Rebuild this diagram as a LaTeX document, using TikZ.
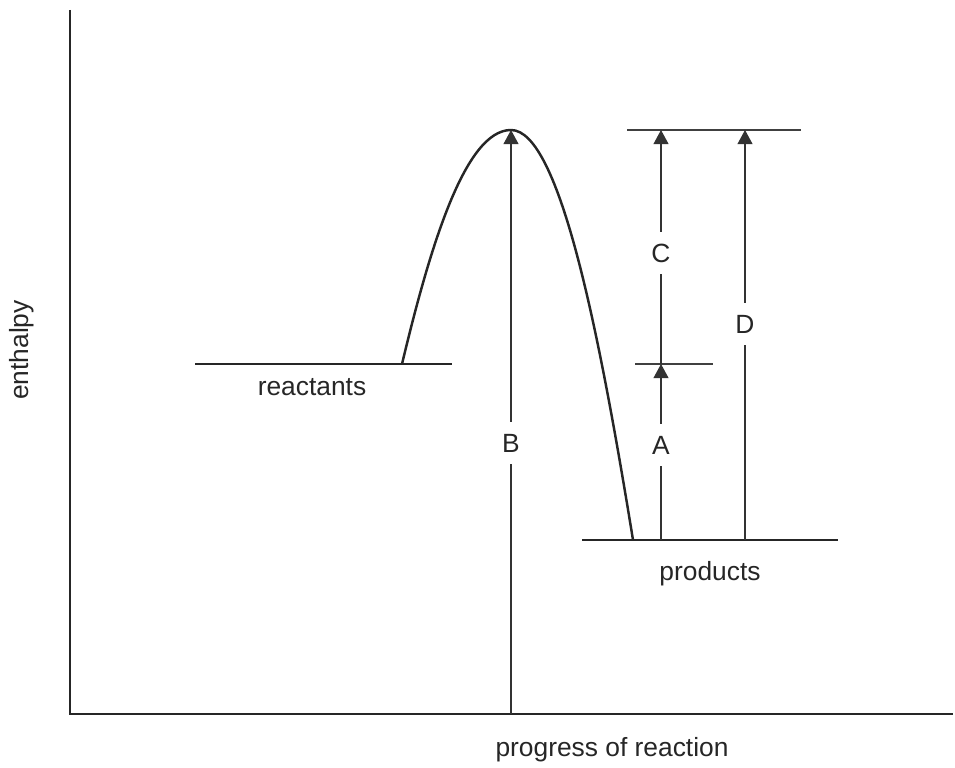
\documentclass[tikz,border=0pt]{standalone}
\usepackage{fontspec}
\setmainfont{Liberation Sans}
\usetikzlibrary{arrows.meta,positioning}

\begin{document}
\begin{tikzpicture}[
    x=0.02cm, y=0.02cm,
    >={Triangle[length=8pt,width=8.5pt]},
    axisline/.style={line width=1.1pt, draw=black!85},
    level/.style={line width=1.4pt, draw=black!85},
    guide/.style={line width=0.6pt, draw=black!75},
    energy/.style={->, line width=0.6pt, draw=black!80, fill=black!85},
    txt/.style={font=\fontsize{15}{17}\selectfont, text=black!85},
    lab/.style={txt, inner sep=0pt, minimum height=24pt, minimum width=20pt}
]
\useasboundingbox (0,0) rectangle (955,767);

% axes
\coordinate (origin) at (70,53);
\coordinate (ytop) at (70,757);
\coordinate (xend) at (953,53);
\draw[axisline] (ytop) -- (origin) -- (xend);
\node[txt, rotate=90] (ylab) at (22,417) {enthalpy};
\node[txt] (xlab) at (612,17) {progress of reaction};

% levels
\coordinate (reacL) at (195,403);
\coordinate (reacR) at (452,403);
\coordinate (prodL) at (582,227);
\coordinate (prodR) at (838,227);
\draw[level] (reacL) -- (reacR);
\draw[level] (prodL) -- (prodR);
\node[txt] (reactants) at (312,380) {reactants};
\node[txt] (products) at (710,193) {products};

% energy profile
\coordinate (start) at (402,403);
\coordinate (peak) at (511,637);
\coordinate (finish) at (633,227);
\draw[level] (start) .. controls (430,520) and (465,637) .. (peak)
    .. controls (560,637) and (600,430) .. (finish);

% guide lines
\coordinate (topL) at (627,637);
\coordinate (topR) at (801,637);
\coordinate (midL) at (635,403);
\coordinate (midR) at (713,403);
\draw[guide] (topL) -- (topR);
\draw[guide] (midL) -- (midR);

% arrows with labels
\coordinate (B0) at (511,53);
\coordinate (B1) at (511,637);
\node[lab] (Blab) at (511,324) {B};
\draw[energy] (B0) -- (Blab) -- (B1);

\coordinate (A0) at (661,227);
\coordinate (A1) at (661,403);
\node[lab] (Alab) at (661,322) {A};
\draw[energy] (A0) -- (Alab) -- (A1);

\coordinate (C1) at (661,637);
\node[lab] (Clab) at (661,514) {C};
\draw[energy] (A1) -- (Clab) -- (C1);

\coordinate (D0) at (745,227);
\coordinate (D1) at (745,637);
\node[lab] (Dlab) at (745,443) {D};
\draw[energy] (D0) -- (Dlab) -- (D1);
\end{tikzpicture}
\end{document}
